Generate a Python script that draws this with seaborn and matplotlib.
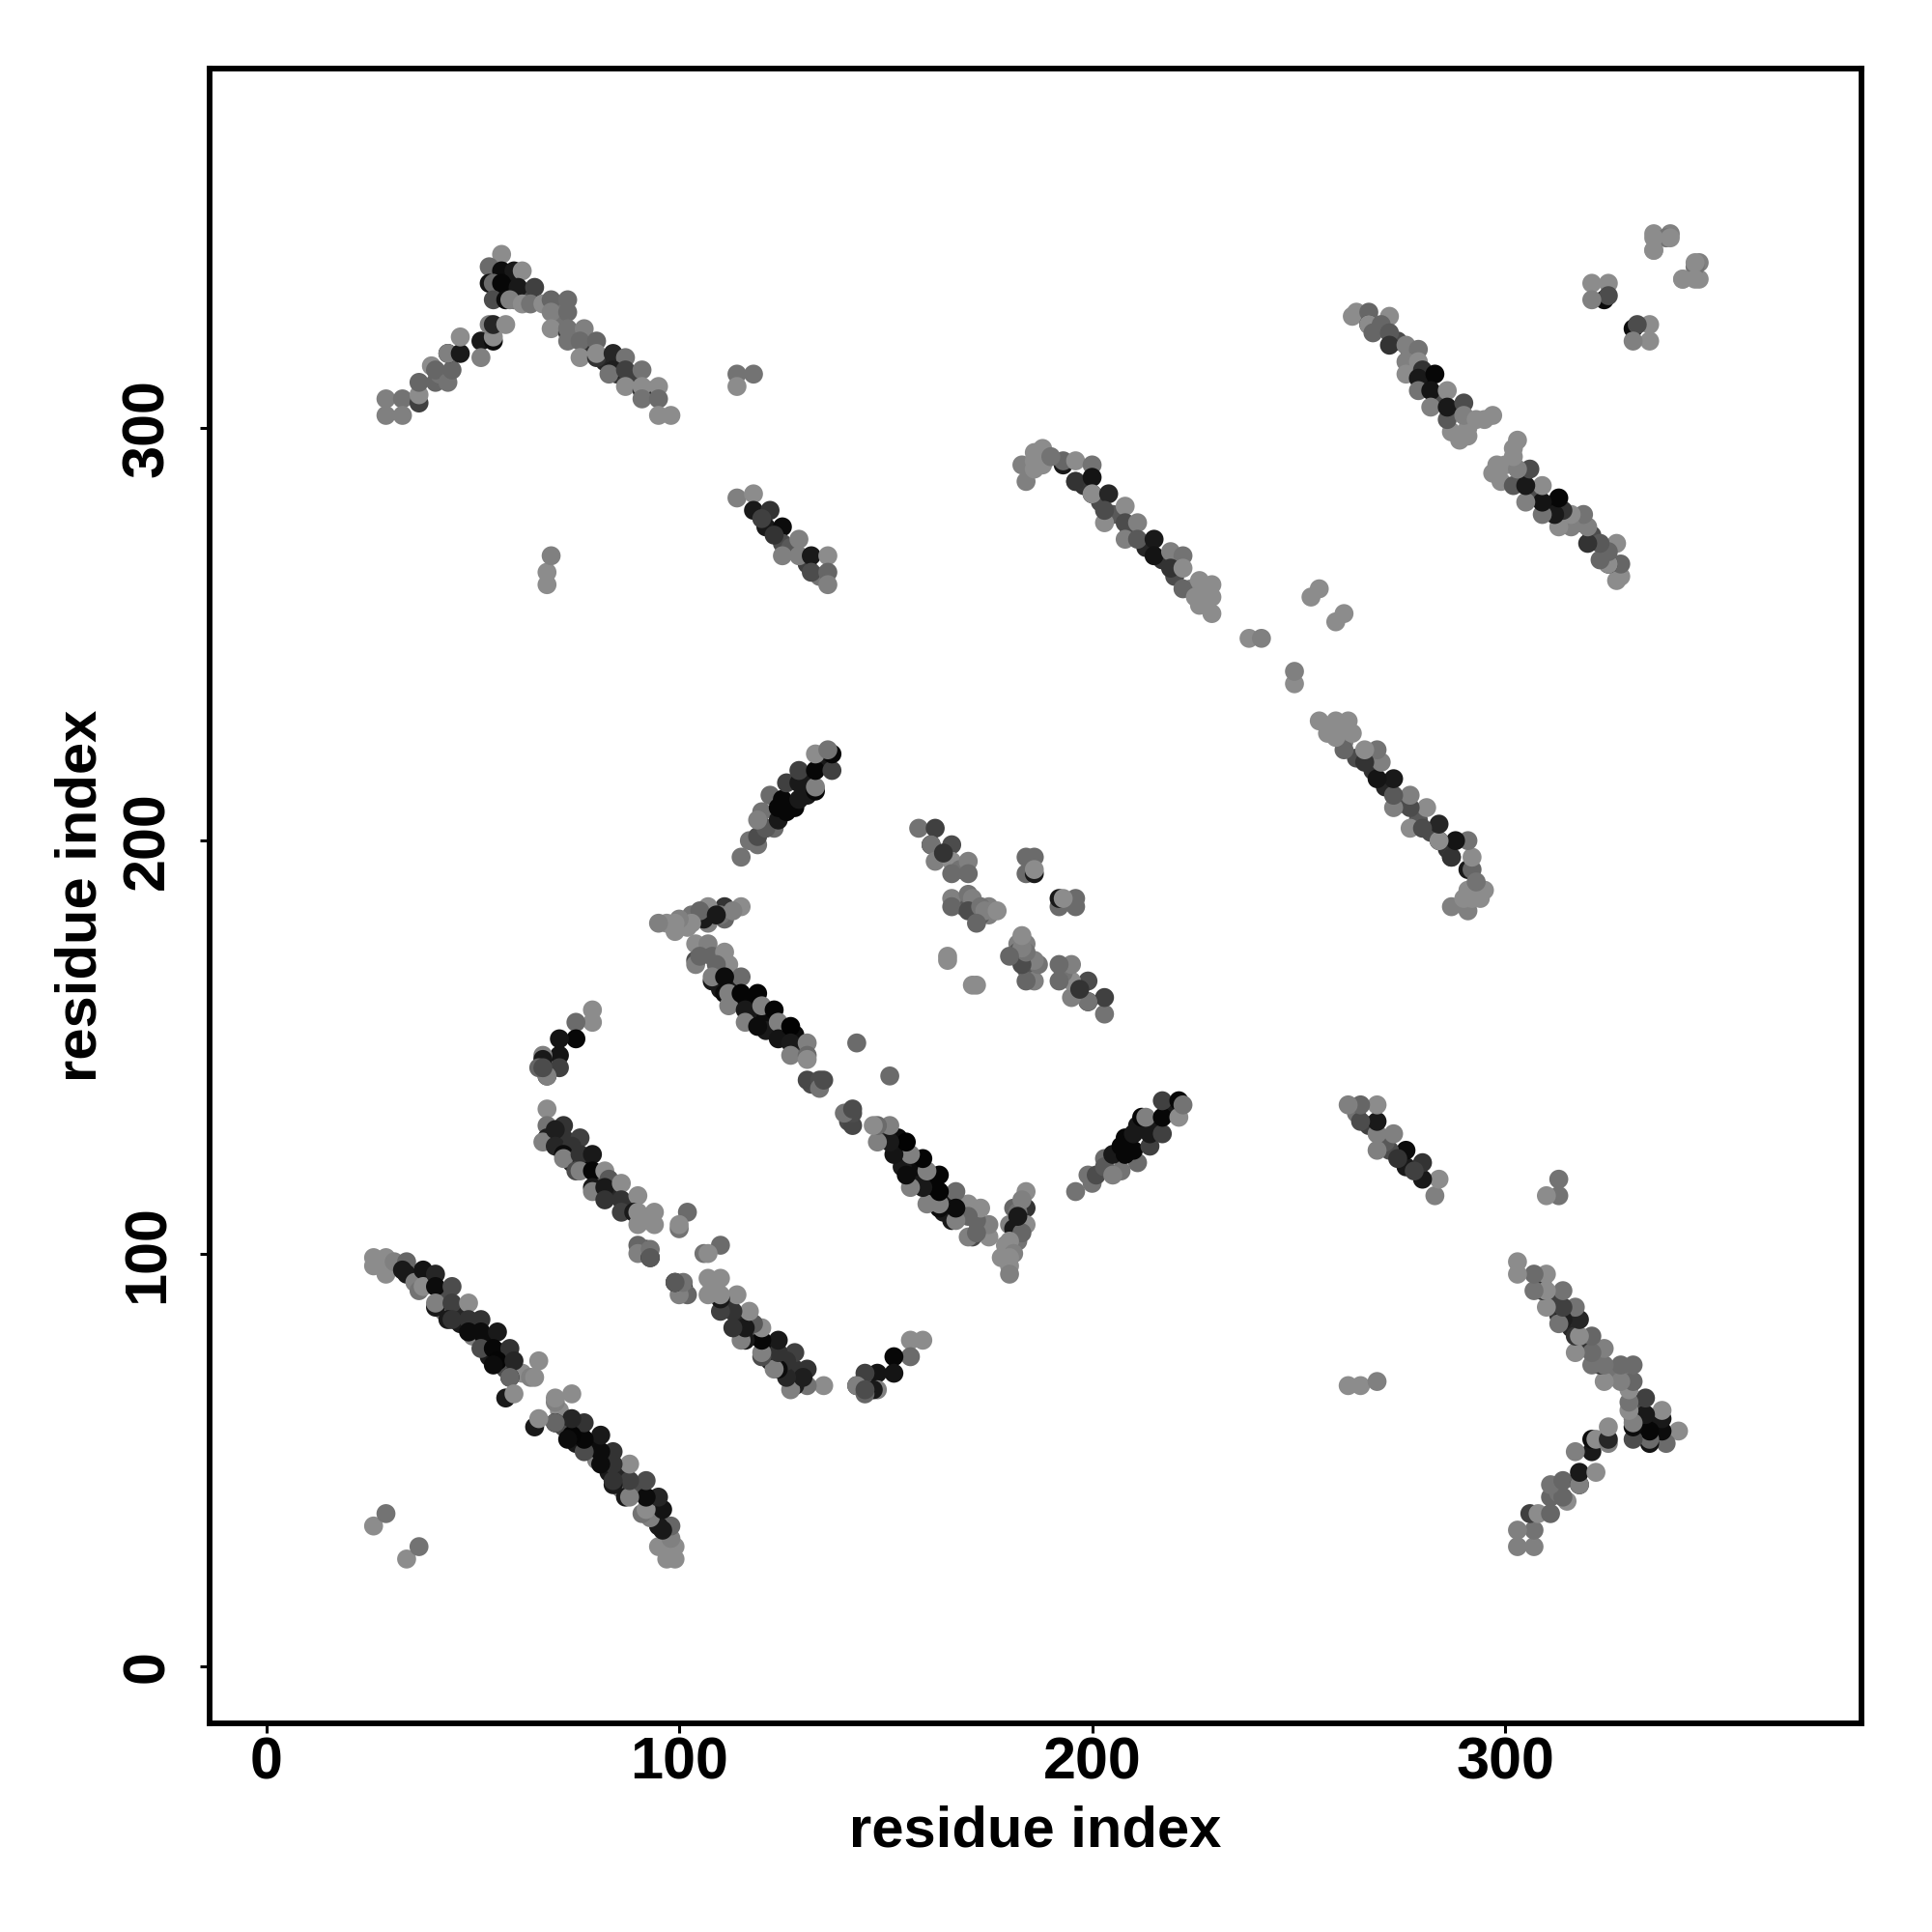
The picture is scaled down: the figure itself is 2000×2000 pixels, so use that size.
# ================================
# Residue contact map (symmetric)
# ================================

import pandas as pd
import matplotlib
matplotlib.use("Agg")
import matplotlib.pyplot as plt
import seaborn as sns

# Contacts as (residue i, residue j, gray level), i < j.
# The map is symmetric so each pair is also drawn as (j, i).
band_a = [(26,99,.55),(26,97,.55),(29,99,.55),(29,95,.55),(31,98,.5),(34,98,.4),(34,95,.1),
          (33,96,.1),(36,93,.5),(39,93,.1),(43,90,.3),(43,86,.45),(47,86,.15),(47,83,.1),
          (38,96,.08),(37,91,.45),(38,92,.55),(41,95,.15),(41,92,.05),(45,92,.3),(41,87,.1),
          (41,88,.5),(45,88,.25),(44,84,.1),(45,84,.2),(49,88,.55),(49,84,.2),(52,84,.2),
          (50,80,.5),(53,79,.05),(54,75,.1),(57,76,.05),(58,72,.3),(62,71,.55),
          (49,81,.05),(52,81,.05),(56,81,.1),(52,77,.3),(55,77,.03),(59,77,.2),(56,74,.02),
          (60,74,.15),(55,73,.05),(59,70,.05),(59,70,.4),(64,70,.5),(66,74,.55),(65,70,.55),
          (58,65,.1),(60,66,.55)]
near_a = [(26,34,.55),(29,37,.45)]

band_b = [(68,135,.55),(68,131,.45),(72,131,.2),(68,128,.12),(67,127,.5),(72,128,.2),(76,128,.25),
          (70,130,.12),(70,126,.15),(74,126,.2),(74,122,.15),(77,122,.05),(80,118,.3),(84,115,.15),
          (72,124,.05),(72,123,.5),(76,124,.2),(79,124,.1),(75,120,.3),(76,120,.5),(79,120,.03),
          (82,120,.55),(79,116,.1),(79,115,.5),(83,118,.35),(82,116,.1),(82,113,.2),(86,117,.55),
          (88,112,.2),(92,108,.55),(92,101,.1),
          (86,113,.2),(90,114,.55),(86,110,.25),(89,110,.1),(90,110,.55),(94,110,.55),(90,107,.55),
          (94,107,.55),(90,102,.4),(90,100,.5),(93,99,.1),(93,101,.45),(93,99,.35)]
near_b = [(102,110,.42),(100,106,.45),(100,107,.55)]

band_d = [(79,159,.55),(79,156,.55),(75,156,.42),(75,152,.03),(71,152,.08),(71,148,.08),(67,148,.5),
          (67,147,.1),(71,145,.25),(68,143,.15),(68,143,.5),(66,145,.4),(67,145,.3)]

band_c = [(104,175,.55),(107,175,.5),(104,171,.3),(104,170,.5),(108,172,.4),(111,173,.55),(112,170,.55),
          (105,172,.4),(109,170,.4),(110,164,.1),(113,165,.1),(113,161,.05),(117,161,.02),(117,158,.1),
          (108,166,.1),(108,167,.5),(115,167,.42),(111,167,.05),(111,163,.05),(112,163,.5),(112,160,.5),
          (121,157,.05),(121,154,.1),(125,154,.05),(128,153,.05),(129,149,.2),(132,141,.3),
          (115,163,.02),(119,163,.02),(116,159,.1),(116,156,.5),(120,160,.5),(119,155,.05),(123,159,.02),
          (124,156,.5),(124,152,.08),(127,155,.01),(127,151,.1),(127,148,.5),(131,151,.5),(131,148,.42),
          (131,147,.55),(131,142,.28),(134,142,.3),(134,140,.45),(135,142,.3)]
near_c = [(143,151,.42)]

band_v = [(115,184,.55),(111,184,.2),(111,181,.4),(107,184,.55),(107,180,.5),(106,181,.1),(103,182,.45),
          (110,182,.45),(113,183,.5),(105,183,.4),(109,182,.1),(102,179,.55),(97,180,.55),
          (103,180,.55),(100,181,.5),(99,178,.55),(99,180,.55),(95,180,.5)]

band_e = [(115,196,.45),(119,199,.45),(117,200,.45),(119,201,.3),(120,207,.45),(122,211,.42),(123,203,.42),
          (121,203,.35),(124,205,.1),(128,208,.03),(131,211,.1),(131,215,.1),(135,219,.1),(124,208,.03),
          (119,205,.5),(126,207,.03),(125,210,.03),(126,214,.25),(129,210,.1),(129,214,.1),(129,217,.25),
          (133,212,.03),(133,213,.5),(133,217,.03),(133,221,.55),(137,217,.25),(137,221,.03),(136,222,.45)]

band_f = [(158,203,.45),(162,203,.25),(161,199,.1),(161,199,.45),(166,199,.3),(162,195,.5),(166,195,.55),
          (168,185,.45),(169,184,.35),(171,184,.4),(175,182,.5),(164,197,.2),(168,193,.45),(175,184,.5),(173,182,.35),
          (170,195,.5),(166,192,.42),(170,192,.42),(166,186,.5),(166,184,.4),(170,187,.45),(171,186,.5),
          (170,183,.3),(173,184,.45),(174,183,.5),(177,183,.55),(172,180,.4)]
near_f = [(184,196,.42),(186,196,.42),(184,192,.42),(186,192,.1),(186,193,.55),(165,172,.55),(165,171,.55)]

band_top = [(29,307,.5),(33,307,.45),(29,303,.5),(33,303,.5),(37,306,.25),(37,308,.55),(37,311,.4),(41,311,.4),
            (42,313,.45),(56,337,.05),(56,333,.05),(59,335,.08),(63,332,.3),(71,329,.45),(71,326,.45),(74,322,.35),
            (40,315,.55),(41,314,.4),(44,311,.45),(45,314,.4),(44,318,.08),(44,318,.5),(47,318,.1),(47,322,.55),
            (52,321,.1),(52,317,.5),(55,321,.05),(55,322,.55),(54,325,.5),(55,325,.15),(58,325,.55),
            (78,319,.2),(82,316,.15),(85,316,.2),(85,313,.2),(89,312,.25),(93,309,.4),(60,331,.45),
            (57,342,.55),(54,339,.42),(57,338,.05),(60,338,.1),(62,338,.55),(54,335,.08),(55,335,.42),(57,335,.03),
            (61,334,.1),(65,334,.25),(55,331,.3),(58,331,.05),(59,331,.5),(62,330,.55),(64,330,.45),(67,330,.55),
            (69,331,.4),(73,331,.42),(69,328,.5),(73,328,.42),(69,324,.55),(73,323,.2),(73,324,.45),(73,321,.45),
            (77,324,.5),(76,321,.42),(80,321,.4),(76,317,.55),(80,317,.2),(80,318,.55),(84,318,.15),(87,317,.45),
            (84,314,.12),(83,313,.45),(87,314,.25),(91,314,.45),(87,310,.55),(91,309,.2),(91,310,.55),(91,307,.45),
            (95,310,.55),(95,307,.42),(95,303,.55),(98,303,.55)]

band_h = [(114,283,.5),(118,284,.55),(118,280,.1),(122,280,.2),(121,276,.1),(125,276,.05),(125,272,.3),
          (120,278,.25),(123,274,.2),(127,271,.35),(131,267,.25),(134,264,.45),
          (129,273,.5),(125,269,.5),(129,269,.5),(132,269,.1),(136,269,.55),(132,265,.3),(136,265,.4),(136,262,.5)]
near_h = [(114,313,.45),(118,313,.45),(114,310,.55),(68,262,.55),(68,265,.55),(69,269,.5)]

band_i = [(184,287,.5),(183,291,.5),(186,294,.55),(188,295,.55),(188,291,.55),(186,290,.55),(193,291,.1),
          (186,292,.55),(198,286,.2),(202,282,.3),(205,279,.35),(209,275,.3),(213,271,.15),(217,268,.2),
          (193,292,.4),(196,292,.55),(200,291,.45),(196,287,.3),(196,287,.2),(200,288,.08),(200,284,.15),
          (220,264,.3),(224,261,.5),(227,260,.55),(190,293,.45),
          (200,284,.55),(204,284,.15),(203,277,.55),(203,280,.3),(208,281,.55),(208,277,.3),(211,277,.5),
          (208,273,.5),(211,273,.35),(215,273,.1),(215,269,.08),(219,270,.5),(222,269,.45),(219,266,.2),
          (222,266,.55),(222,261,.4),(226,263,.55),(229,262,.55),(225,259,.55),(229,259,.55),(226,257,.55),(229,255,.55)]
near_i = [(255,261,.55),(253,259,.55),(238,249,.55),(241,249,.5)]

band_k = [(264,328,.55),(263,327,.55),(267,328,.4),(267,325,.1),(267,325,.55),(268,323,.4),(272,327,.55),
          (270,325,.4),(274,321,.3),(277,318,.4),(281,311,.05),(284,307,.1),(288,304,.3),(291,300,.55),
          (272,323,.35),(272,320,.2),(276,320,.5),(279,319,.45),(276,316,.5),(276,313,.55),(279,316,.55),
          (295,302,.55),(280,314,.2),(283,308,.3),(287,299,.55),
          (279,312,.1),(279,309,.45),(283,313,.03),(282,309,.08),(286,309,.55),(282,305,.5),(286,302,.35),
          (286,305,.1),(290,306,.3),(290,303,.5),(293,302,.55),(297,303,.55),(289,297,.55),(291,298,.55)]
near_k = [(321,335,.55),(325,335,.55),(324,331,.05),(325,332,.3),(321,331,.5),(336,347,.55),(340,347,.5),
          (336,343,.55),(339,346,.45),(346,340,.55),(343,336,.55),(336,346,.55)]

all_bands = [band_a, near_a, band_b, near_b, band_d, band_c, near_c, band_v, band_e,
             band_f, near_f, band_top, band_h, near_h, band_i, near_i, band_k, near_k]

tick_values = [0, 100, 200, 300]
axis_label = "residue index"

# ================================
# Build table with both triangles
# ================================

rows = []
for band in all_bands:
    for i, j, g in band:
        rows.append((i, j, g))
        rows.append((j, i, g))
df = pd.DataFrame(rows, columns=["x", "y", "gray"])

# ================================
# Plot
# ================================

sns.set_style("white")
plt.rcParams["font.family"] = ["Liberation Sans", "DejaVu Sans"]
plt.rcParams["font.weight"] = "bold"
plt.rcParams["text.color"] = "black"
plt.rcParams["axes.labelcolor"] = "black"
plt.rcParams["xtick.labelcolor"] = "black"
plt.rcParams["ytick.labelcolor"] = "black"

fig = plt.figure(figsize=(10, 10), dpi=200)
ax = fig.add_axes([217 / 2000, 1 - 1784 / 2000, 1710 / 2000, 1713 / 2000])

sns.scatterplot(data=df, x="x", y="y", hue="gray", palette="gray", hue_norm=(0, 1),
                s=50, linewidth=0, legend=False, ax=ax)

ax.set_xlim(-13.7, 386.3)
ax.set_ylim(-13.8, 387)
ax.set_xticks(tick_values)
ax.set_yticks(tick_values)
ax.tick_params(axis="both", length=3.5, width=1.1, color="black", labelsize=22, pad=1.5, bottom=True, left=True)
for lab in ax.get_yticklabels():
    lab.set_rotation(90)
    lab.set_va("center")
ax.tick_params(axis="y", pad=9)
for s in ax.spines.values():
    s.set_linewidth(2.1)
    s.set_color("black")

ax.set_xlabel(axis_label, fontsize=21.5, fontweight="bold", labelpad=5)
ax.set_ylabel(axis_label, fontsize=21.5, fontweight="bold", labelpad=5)

fig.savefig("out.png", dpi=200)
